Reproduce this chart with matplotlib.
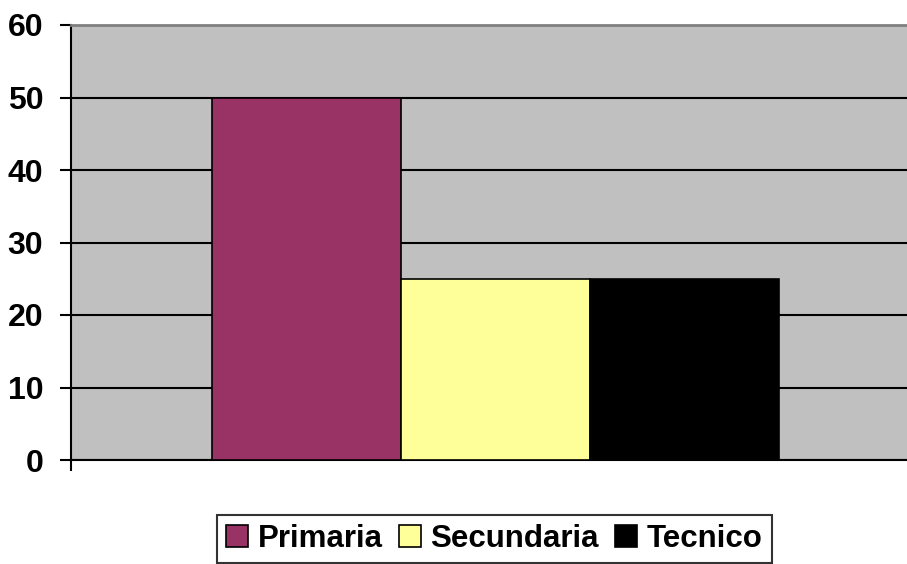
import matplotlib
matplotlib.use("Agg")
import matplotlib.pyplot as plt
from matplotlib.patches import Patch

categories = ["Primaria", "Secundaria", "Tecnico"]
values = [50, 25, 25]
colors = ["#993366", "#FFFF99", "#000000"]
yticks = [0, 10, 20, 30, 40, 50, 60]

plt.rcParams['font.family'] = ['Liberation Sans', 'DejaVu Sans']

fig = plt.figure(figsize=(9.07, 5.64), dpi=100)
ax = fig.add_axes([71/907, 1-460/564, 1-71/907, (460-25)/564])
ax.set_facecolor("#C0C0C0")

positions = [-1, 0, 1]
ax.bar(positions, values, width=1.0, color=colors, edgecolor="black", linewidth=1.2, zorder=3)

ax.set_ylim(0, 60)
ax.set_xlim(-2.246, 2.18)
ax.set_yticks(yticks)
ax.set_yticklabels([str(t) for t in yticks], fontsize=23, fontweight="bold")
ax.set_xticks([-2.246])
ax.set_xticklabels([""])
ax.tick_params(axis="y", direction="out", length=8, width=1.5, pad=12)
ax.tick_params(axis="x", direction="out", length=8, width=1.5)
ax.yaxis.grid(True, color="black", linewidth=1.5, zorder=1)
ax.set_axisbelow(True)

for s in ["left", "bottom"]:
    ax.spines[s].set_color("black")
    ax.spines[s].set_linewidth(1.5)
ax.spines["top"].set_color("#808080")
ax.spines["top"].set_linewidth(2)
ax.spines["right"].set_visible(False)

handles = [Patch(facecolor=c, edgecolor="black", linewidth=1.2, label=l) for c, l in zip(colors, categories)]
leg = fig.legend(handles=handles, loc="lower center", bbox_to_anchor=(0.545, 0.001), ncol=3,
                 frameon=True, fancybox=False, edgecolor="black",
                 prop={"weight": "bold", "size": 22.5},
                 handlelength=0.7, handleheight=0.7, handletextpad=0.32, columnspacing=0.5,
                 borderpad=0.3, borderaxespad=0)
leg.get_frame().set_linewidth(1.5)

fig.savefig("out.png", dpi=100)
